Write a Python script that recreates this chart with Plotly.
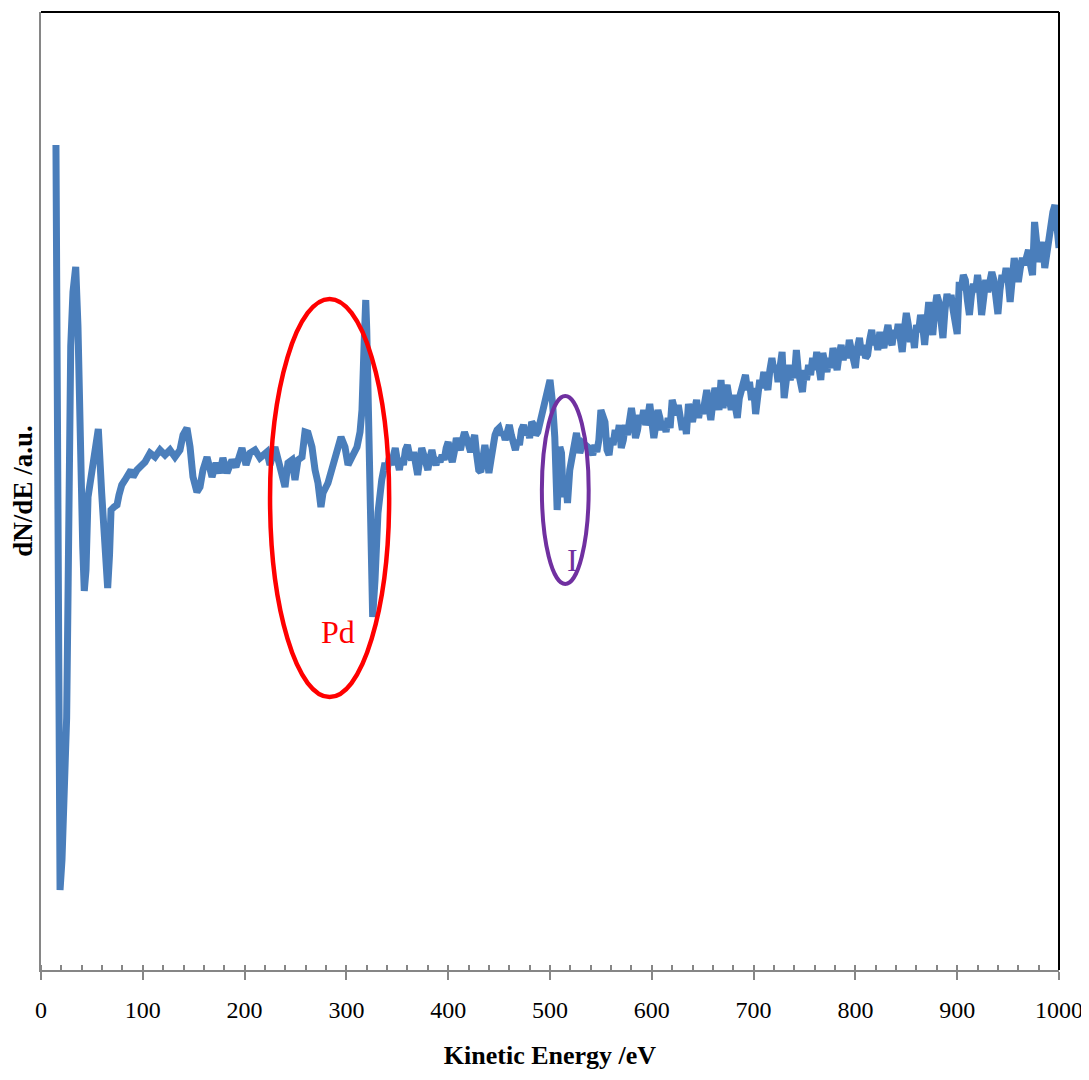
import plotly.graph_objects as go

# Auger spectrum (arbitrary intensity units)
energy = [14.7, 15.7, 16.7, 18.7, 20.6, 22.6, 25.2, 26.5, 27.5, 29.2, 31.4, 34.1, 36.3, 38.3, 41.0, 42.5, 44.2, 46.2,
          50.8, 54.0, 56.3, 59.6, 62.9, 65.5, 67.3, 68.8, 71.7, 74.7, 76.6, 79.3, 82.5, 85.5, 88.4, 90.4, 94.3, 99.2,
          102.2, 107.1, 112.0, 116.9, 121.8, 126.7, 131.6, 136.5, 139.5, 143.4, 146.4, 149.3, 153.2, 156.2, 159.1,
          163.1, 168.0, 171.9, 175.8, 178.7, 182.7, 187.6, 191.5, 197.4, 201.4, 205.3, 210.2, 215.1, 222.0, 224.9,
          229.8, 234.8, 239.7, 242.6, 246.5, 249.5, 252.4, 256.4, 259.3, 262.3, 266.2, 269.2, 272.1, 275.0, 277.0,
          281.9, 285.9, 288.8, 291.7, 294.7, 298.6, 301.6, 305.5, 310.4, 313.4, 315.3, 317.3, 319.0, 320.0, 321.2,
          322.5, 323.9, 325.8, 328.1, 331.0, 334.7, 337.9,
          340, 342, 344, 346, 348, 350, 352, 354, 356, 358, 360, 362, 364, 366, 368, 370, 372, 374, 376, 378,
          380, 382, 384, 386, 388, 390, 392, 394, 396, 398, 400, 402, 404, 406, 408, 410, 412, 414, 416, 418,
          420, 422, 424, 426, 428, 430, 432, 434, 436, 438, 440, 442, 444, 446, 448, 450, 452, 454, 456, 458,
          460, 462, 464, 466, 468, 470, 472, 474, 476, 478, 480, 482, 484, 486, 488, 490, 492, 494, 496, 498,
          500, 502.5, 504.7, 507.0, 509.7, 511.3, 512.9, 515.3, 517.2, 519.4, 522.7, 526.0, 529.3, 532.3, 537.3,
          540, 542, 544, 546, 548, 550, 552, 554, 556, 558, 560, 562, 564, 566, 568, 570, 572, 574, 576, 578,
          580, 582, 584, 586, 588, 590, 592, 594, 596, 598, 600, 602, 604, 606, 608, 610, 612, 614, 616, 618,
          620, 622, 624, 626, 628, 630, 632, 634, 636, 638, 640, 642, 644, 646, 648, 650, 652, 654, 656, 658,
          660, 662, 664, 666, 668, 670, 672, 674, 676, 678, 680, 682, 684, 686, 688, 690, 692, 694, 696, 698,
          700, 702, 704, 706, 708, 710, 712, 714, 716, 718, 720, 722, 724, 726, 728, 730, 732, 734, 736, 738,
          740, 742, 744, 746, 748, 750, 752, 754, 756, 758, 760, 762, 764, 766, 768, 770, 772, 774, 776, 778,
          780, 782, 784, 786, 788, 790, 792, 794, 796, 798, 800, 802, 804, 806, 808, 810, 812, 814, 816, 818,
          820, 822, 824, 826, 828, 830, 832, 834, 836, 838, 840, 842, 844, 846, 848, 850, 852, 854, 856, 858,
          860, 862, 864, 866, 868, 870, 872, 874, 876, 878, 880, 882, 884, 886, 888, 890, 892, 894, 896, 898,
          900, 902, 904, 906, 908, 910, 912, 914, 916, 918, 920, 922, 924, 926, 928, 930, 932, 934, 936, 938,
          940, 942, 944, 946, 948, 950, 952, 954, 956, 958, 960, 962, 964, 966, 968, 970, 972, 974, 976, 978,
          980, 982, 984, 986, 988, 990, 992, 994, 996, 998, 1000]

dnde = [825, 520, 208, 80, 110, 173, 252, 370, 497, 624, 678, 703, 644, 497, 423, 379, 400, 473,
        507, 530, 541, 477, 423, 382, 415, 460, 463, 465, 475, 485, 490, 496, 500, 493, 500, 505,
        508, 517, 513, 520, 515, 520, 513, 520, 535, 542, 523, 493, 478, 483, 500,
        513, 493, 507, 497, 512, 497, 510, 503, 522, 505, 517, 520, 512, 518, 505,
        523, 503, 483, 507, 510, 490, 510, 513, 538, 537, 523, 500, 487, 463, 477,
        487, 500, 510, 520, 533, 523, 505, 513, 523, 538, 560, 623, 670, 640, 590,
        540, 457, 353, 390, 457, 490, 507,
        500, 512, 505, 518, 522, 510, 500, 512, 505, 520, 525, 515, 510, 518, 500, 495, 510, 522, 515, 505,
        500, 512, 520, 510, 505, 512, 508, 515, 510, 522, 528, 515, 508, 518, 532, 525, 520, 530, 538, 532,
        522, 518, 528, 535, 515, 500, 498, 515, 525, 512, 497, 510, 528, 535, 540, 542, 535, 538, 530, 540,
        545, 535, 522, 520, 530, 525, 540, 545, 535, 540, 532, 548, 545, 535, 538, 548, 558, 565, 572, 588,
        590, 567, 533, 460, 523, 517, 473, 490, 467, 500, 523, 537, 517, 527, 523,
        520, 515, 525, 518, 530, 560, 555, 548, 520, 515, 532, 525, 540, 532, 545, 522, 530, 545, 535, 552,
        562, 548, 532, 540, 555, 548, 560, 545, 552, 566, 548, 532, 545, 560, 552, 540, 548, 538, 552, 542,
        570, 562, 555, 565, 548, 540, 552, 536, 566, 555, 548, 560, 570, 552, 565, 556, 568, 580, 562, 550,
        568, 582, 575, 560, 590, 562, 578, 585, 572, 560, 575, 562, 552, 572, 580, 590, 595, 580, 588, 570,
        582, 556, 575, 590, 582, 598, 590, 580, 600, 612, 598, 605, 588, 612, 618, 572, 598, 605, 590, 600,
        592, 620, 598, 585, 578, 600, 590, 605, 595, 612, 600, 618, 598, 590, 617, 605, 598, 612, 602, 622,
        610, 600, 615, 625, 610, 620, 612, 630, 620, 605, 602, 622, 632, 615, 625, 612, 615, 630, 640, 625,
        632, 620, 638, 628, 622, 635, 645, 630, 625, 640, 632, 646, 635, 618, 640, 657, 645, 628, 640, 622,
        645, 638, 655, 645, 625, 650, 668, 648, 635, 660, 675, 668, 650, 632, 660, 676, 665, 675, 660, 645,
        636, 688, 680, 695, 690, 670, 655, 675, 686, 678, 695, 680, 655, 672, 690, 678, 688, 698, 690, 670,
        656, 680, 695, 688, 702, 690, 668, 690, 712, 700, 688, 702, 712, 705, 718, 720, 705, 695, 748, 725,
        708, 718, 728, 702, 715, 730, 752, 758, 765, 738, 722]

# annotated regions (ellipses) and labels
pd_box = [225, 273, 342, 671]   # x0, y0, x1, y1
i_box = [492, 386, 538, 574]
pd_label = [292, 338]
i_label = [522, 410]

serif = "Liberation Serif"
axis_grey = "#868686"

fig = go.Figure()
fig.add_trace(go.Scatter(x=energy, y=dnde, mode="lines",
                         line=dict(color="#4A7EBB", width=7), showlegend=False))

fig.add_shape(type="circle", xref="x", yref="y",
              x0=pd_box[0], y0=pd_box[1], x1=pd_box[2], y1=pd_box[3],
              line=dict(color="#FF0000", width=4.5))
fig.add_shape(type="circle", xref="x", yref="y",
              x0=i_box[0], y0=i_box[1], x1=i_box[2], y1=i_box[3],
              line=dict(color="#7030A0", width=4))
fig.add_annotation(x=pd_label[0], y=pd_label[1], text="Pd", showarrow=False,
                   font=dict(family=serif, size=32, color="#FF0000"))
fig.add_annotation(x=i_label[0], y=i_label[1], text="I", showarrow=False,
                   font=dict(family=serif, size=32, color="#7030A0"))

# black frame on top and right
fig.add_shape(type="line", xref="paper", yref="paper", x0=0, x1=1, y0=1, y1=1,
              line=dict(color="black", width=2))
fig.add_shape(type="line", xref="paper", yref="paper", x0=1, x1=1, y0=0, y1=1,
              line=dict(color="black", width=2))

# page body has an 8px margin, so the figure is a little smaller than the window
fig.update_layout(
    width=1081, height=1064,
    margin=dict(l=33, r=30, t=4, b=102),
    plot_bgcolor="white", paper_bgcolor="white",
    font=dict(family=serif, color="black"),
    xaxis=dict(range=[0, 1000], dtick=100, showgrid=False, zeroline=False,
               showline=True, linecolor=axis_grey, linewidth=2,
               ticks="outside", ticklen=8, tickwidth=2, tickcolor=axis_grey,
               ticklabelstandoff=9, ticklabeloverflow="allow",
               tickfont=dict(family=serif, size=24),
               minor=dict(dtick=20, ticks="inside", ticklen=5, tickwidth=2, tickcolor=axis_grey),
               title=dict(text="<b>Kinetic Energy /eV</b>", font=dict(family=serif, size=26), standoff=24)),
    yaxis=dict(range=[0, 958], showgrid=False, zeroline=False, showticklabels=False,
               showline=True, linecolor=axis_grey, linewidth=2, ticks="",
               title=dict(text="<b>dN/dE /a.u.</b>", font=dict(family=serif, size=27), standoff=4)),
)

fig.write_html("out.html")
